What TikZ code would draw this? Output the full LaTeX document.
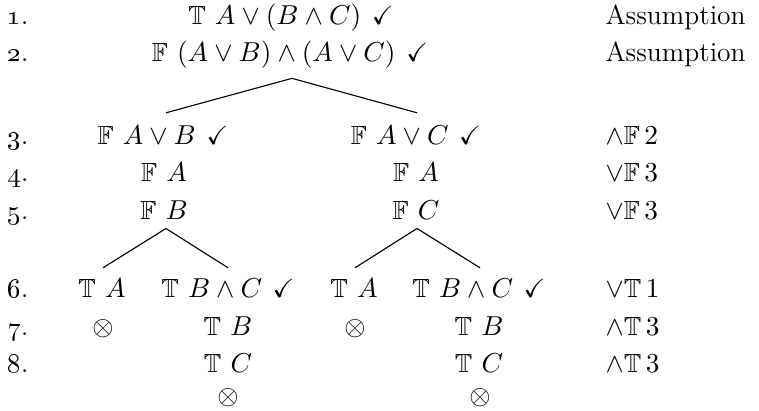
\documentclass[tikz,border=0pt]{standalone}
\usepackage{amssymb}
\usetikzlibrary{calc}
\newcommand{\vT}{\mathbb{T}\mkern6mu}
\newcommand{\vF}{\mathbb{F}\mkern6mu}
\newcommand{\ck}{\mkern7mu\checkmark}
\tikzset{
  txt/.style={inner sep=0pt, anchor=base, font=\fontsize{10.5}{12}\selectfont},
  lnum/.style={txt, anchor=base west},
  just/.style={txt, anchor=base west},
  branch/.style={line width=0.45pt}
}
\begin{document}
\begin{tikzpicture}[x=0.4pt, y=-0.4pt]
\useasboundingbox (0,0) rectangle (759,411);
% line numbers
\node[lnum] (n1) at (7,25) {\oldstylenums{1}.};
\node[lnum] (n2) at (7,62) {\oldstylenums{2}.};
\node[lnum] (n3) at (7,145) {\oldstylenums{3}.};
\node[lnum] (n4) at (7,182) {\oldstylenums{4}.};
\node[lnum] (n5) at (7,220) {\oldstylenums{5}.};
\node[lnum] (n6) at (7,298) {\oldstylenums{6}.};
\node[lnum] (n7) at (7,336) {\oldstylenums{7}.};
\node[lnum] (n8) at (7,373) {\oldstylenums{8}.};
% formulas
\node[txt] (r1) at (291,25) {$\vT A \lor (B \land C)\ck$};
\node[txt] (r2) at (290,62) {$\vF (A \lor B) \land (A \lor C)\ck$};
\node[txt] (r3l) at (163,145) {$\vF A \lor B\ck$};
\node[txt] (r3r) at (416,145) {$\vF A \lor C\ck$};
\node[txt] (r4l) at (164,182) {$\vF A$};
\node[txt] (r4r) at (416,182) {$\vF A$};
\node[txt] (r5l) at (164,220) {$\vF B$};
\node[txt] (r5r) at (416,220) {$\vF C$};
\node[txt] (r6a) at (102,298) {$\vT A$};
\node[txt] (r6b) at (228,298) {$\vT B \land C\ck$};
\node[txt] (r6c) at (354,298) {$\vT A$};
\node[txt] (r6d) at (479,298) {$\vT B \land C\ck$};
\node[txt] (r7a) at (103,336) {$\otimes$};
\node[txt] (r7b) at (228,336) {$\vT B$};
\node[txt] (r7c) at (355,336) {$\otimes$};
\node[txt] (r7d) at (479,336) {$\vT B$};
\node[txt] (r8b) at (228,373) {$\vT C$};
\node[txt] (r8d) at (479,373) {$\vT C$};
\node[txt] (x9b) at (228,405) {$\otimes$};
\node[txt] (x9d) at (480,405) {$\otimes$};
% justifications
\node[just, font=\fontsize{11}{13}\selectfont] (j1) at (605,25) {Assumption};
\node[just, font=\fontsize{11}{13}\selectfont] (j2) at (605,62) {Assumption};
\node[just] (j3) at (605,145) {$\land\mathbb{F}\,2$};
\node[just] (j4) at (605,182) {$\lor\mathbb{F}\,3$};
\node[just] (j5) at (605,220) {$\lor\mathbb{F}\,3$};
\node[just] (j6) at (605,298) {$\lor\mathbb{T}\,1$};
\node[just] (j7) at (605,336) {$\land\mathbb{T}\,3$};
\node[just] (j8) at (605,373) {$\land\mathbb{T}\,3$};
% branch points
\coordinate (a1) at ($(r2.south)+(2,9)$);
\coordinate (a2) at ($(r5l.south)+(2,8)$);
\coordinate (a3) at ($(r5r.south)+(1,8)$);
\coordinate (e3l) at ($(r3l.north)+(3,-13)$);
\coordinate (e3r) at ($(r3r.north)+(1,-13)$);
\coordinate (e6a) at ($(r6a.north)+(1,-11)$);
\coordinate (e6b) at ($(r6b.north)+(0,-11)$);
\coordinate (e6c) at ($(r6c.north)+(1,-11)$);
\coordinate (e6d) at ($(r6d.north)+(1,-11)$);
\draw[branch] (e3l) -- (a1) -- (e3r);
\draw[branch] (e6a) -- (a2) -- (e6b);
\draw[branch] (e6c) -- (a3) -- (e6d);
\end{tikzpicture}
\end{document}
